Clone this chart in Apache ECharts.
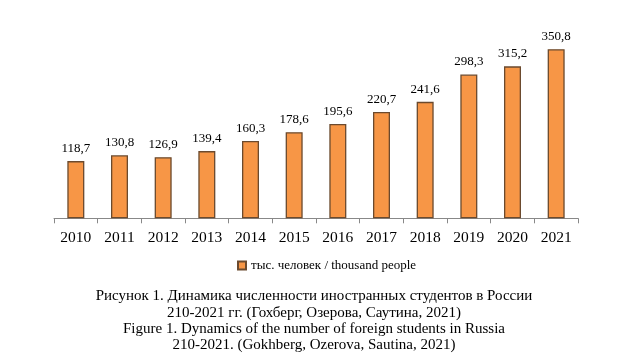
<!DOCTYPE html>
<html><head><meta charset="utf-8">
<script src="https://cdn.jsdelivr.net/npm/echarts@6/dist/echarts.min.js"></script>
<style>html,body{margin:0;padding:0;background:#fff}#c{width:628px;height:363px}</style>
</head><body><div id="c"></div>
<script>
const categories = ['2010','2011','2012','2013','2014','2015','2016','2017','2018','2019','2020','2021'];
const values = [118.7,130.8,126.9,139.4,160.3,178.6,195.6,220.7,241.6,298.3,315.2,350.8];
const seriesName = 'тыс. человек / thousand people';
const captionLines = [
  'Рисунок 1. Динамика численности иностранных студентов в России',
  '210-2021 гг. (Гохберг, Озерова, Саутина, 2021)',
  'Figure 1. Dynamics of the number of foreign students in Russia',
  '210-2021. (Gokhberg, Ozerova, Sautina, 2021)'
];
const serif = '"Liberation Serif", "Times New Roman", serif';
const chart = echarts.init(document.getElementById('c'), null, {renderer:'canvas'});
chart.setOption({
  animation:false,
  backgroundColor:'#fff',
  grid:{left:54,right:50,top:25.5,height:192.8,containLabel:false},
  legend:{
    data:[seriesName], top:254, left:232, itemWidth:8, itemHeight:8, itemGap:3,
    icon:'rect',
    textStyle:{fontFamily:serif,fontSize:13,color:'#000'}
  },
  xAxis:{
    type:'category', data:categories,
    axisLine:{lineStyle:{color:'#888',width:1}},
    axisTick:{show:true,length:5,lineStyle:{color:'#888'}},
    axisLabel:{fontFamily:serif,fontSize:15.5,color:'#000',margin:12}
  },
  yAxis:{type:'value',min:0,max:400,show:false,splitLine:{show:false}},
  series:[{
    name:seriesName, type:'bar', data:values, barWidth:17,
    itemStyle:{color:'#F79646',borderColor:'#6b4a2e',borderWidth:1.3},
    label:{show:true,position:'top',distance:6,fontFamily:serif,fontSize:13,color:'#000',
      formatter:p=>p.value.toFixed(1).replace('.',',')}
  }],
  graphic: captionLines.map((t,i)=>({
    type:'text', left:'center', top:289+i*16.3,
    style:{text:t,font:'15px '+serif,fill:'#000'}
  }))
});
</script></body></html>
